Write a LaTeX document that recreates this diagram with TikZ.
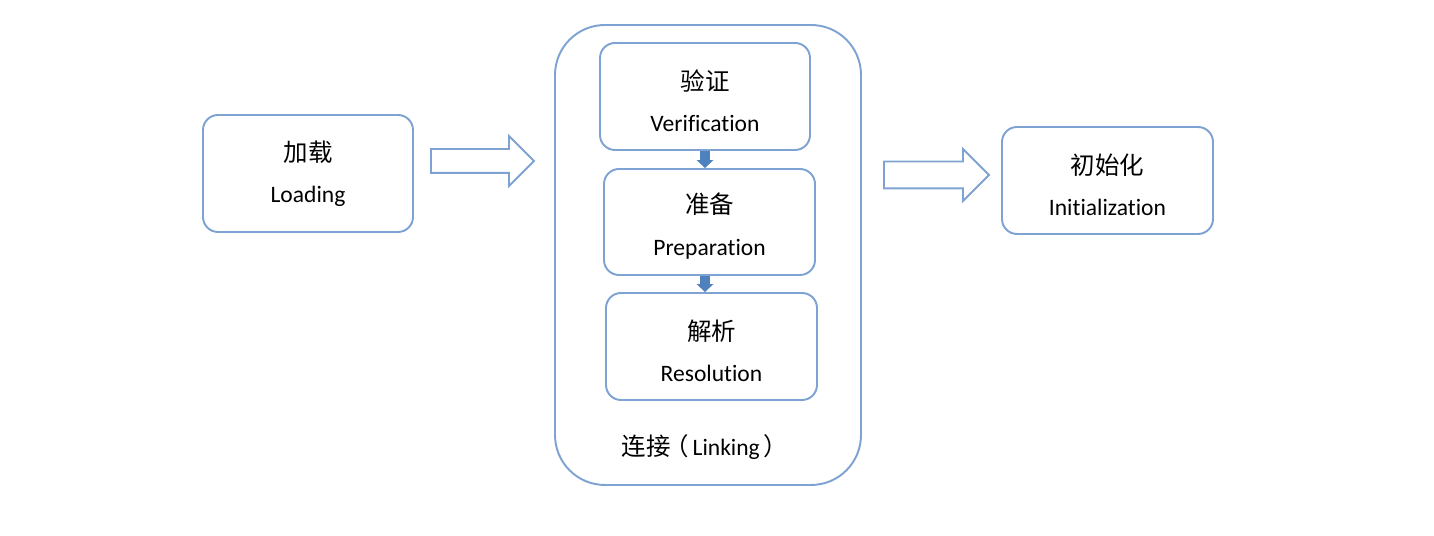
\documentclass[tikz,border=0pt]{standalone}
\usepackage{xcolor}
\usepackage{fontspec}
\setmainfont{Carlito}[Ligatures=NoCommon, RawFeature=-calt]
\newfontfamily\cjk{Noto Sans CJK SC}[Scale=1.04]
\newcommand\cnhead[1]{{\cjk\rule{0pt}{16.5pt}#1}}
\usepackage{tikz}
\usetikzlibrary{arrows.meta, positioning, shapes.arrows, calc}
\definecolor{boxblue}{RGB}{126,163,210}
\definecolor{arrowblue}{RGB}{79,129,189}
\tikzset{
	stage/.style={draw=boxblue, line width=1.1pt, rounded corners=0.3cm, fill=white, minimum width=4.2cm, minimum height=2.14cm, align=center, font=\fontsize{13.4}{23.5}\selectfont},
	bigarrow/.style={single arrow, draw=boxblue, line width=1.1pt, inner sep=0pt, inner ysep=0.22cm, single arrow head extend=0.26cm, minimum height=2.06cm, anchor=tail},
	steparrow/.style={arrowblue, line width=0.2cm, -{Triangle[length=0.16cm, width=0.34cm, line width=0pt]}}
}

\begin{document}
\begin{tikzpicture}
			\useasboundingbox (0,0) rectangle (28.68,10.72);
			\node[draw=boxblue, line width=1.1pt, rounded corners=1cm, minimum width=6.12cm, minimum height=9.2cm] (link) at (14.16,5.62) {};
			\node[stage, minimum height=2.34cm] (load) at (6.16,7.25) {{\cjk\rule{0pt}{12pt}加载}\\Loading};
			\node[stage] (ver) at (14.1,8.79) {\cnhead{验证}\\Verification};
			\node[stage, minimum width=4.22cm, minimum height=2.12cm] (pre) at (14.19,6.28) {\cnhead{准备}\\Preparation};
			\node[stage, minimum width=4.22cm] (res) at (14.23,3.79) {\cnhead{解析}\\Resolution};
			\node[stage, minimum width=4.22cm] (init) at (22.15,7.11) {\cnhead{初始化}\\Initialization};
			\node[font=\fontsize{13.4}{23.5}\selectfont] (linktxt) at (14.1,1.78) {{\cjk 连接\kern-0.25em（}\kern0.15em Linking\,{\cjk ）}};
			\node[bigarrow] (step1) at (8.6,7.5) {};
			\node[bigarrow, inner ysep=0.25cm, single arrow head extend=0.25cm, minimum height=2.1cm] (step2) at (17.66,7.22) {};
			\draw[steparrow] (ver.south) -- (ver.south |- pre.north);
			\draw[steparrow] (pre.south -| ver.south) -- (res.north -| ver.south);
		\end{tikzpicture}
\end{document}
